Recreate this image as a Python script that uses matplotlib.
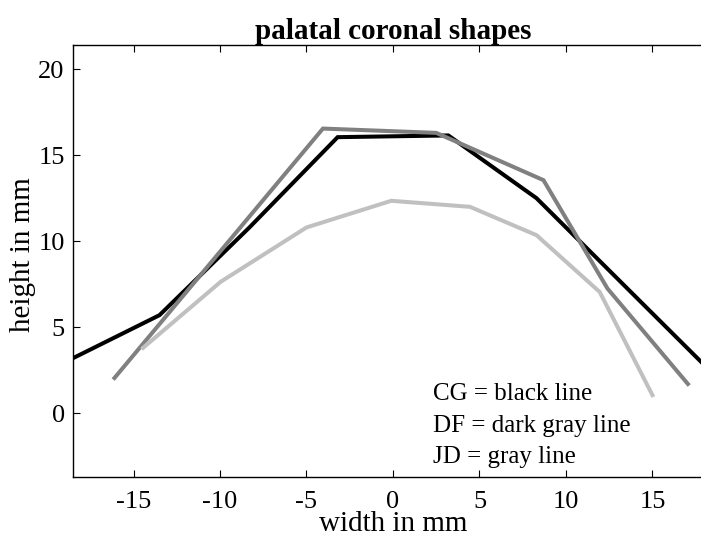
import matplotlib
matplotlib.use("Agg")
import matplotlib.pyplot as plt

# palatal coronal shapes (width vs height, mm)
cg_x = [-18.5, -13.5, -8.3, -3.2, 3.2, 8.3, 12.8, 18.5]
cg_y = [3.2, 5.7, 10.8, 16.05, 16.15, 12.5, 8.0, 2.3]

df_x = [-16.1, -4.05, 2.5, 8.7, 12.4, 17.05]
df_y = [2.05, 16.55, 16.3, 13.55, 7.25, 1.7]

jd_x = [-14.45, -9.95, -5.0, -0.1, 4.45, 8.3, 11.95, 15.0]
jd_y = [3.8, 7.65, 10.8, 12.35, 12.0, 10.35, 7.05, 1.05]

legend_lines = ["CG = black line", "DF = dark gray line", "JD = gray line"]
xticks = [-15, -10, -5, 0, 5, 10, 15]
yticks = [0, 5, 10, 15, 20]

plt.rcParams["font.family"] = ["Liberation Serif", "DejaVu Serif"]
plt.rcParams["axes.unicode_minus"] = False

fig = plt.figure(figsize=(7.01, 5.37), dpi=100)
# axes runs a bit past the right edge, as in the cropped original
ax = fig.add_axes([0.1041, 0.1123, 0.913, 0.803])

ax.plot(cg_x, cg_y, color="black", lw=2.9, solid_joinstyle="miter")
ax.plot(df_x, df_y, color="#808080", lw=2.9, solid_joinstyle="miter")
ax.plot(jd_x, jd_y, color="#c0c0c0", lw=2.9, solid_joinstyle="miter")

ax.set_xlim(-18.5, 18.5)
ax.set_ylim(-3.69, 21.38)
ax.set_xticks(xticks)
ax.set_yticks(yticks)
ax.tick_params(direction="in", length=5, width=0.8, labelsize=19,
               top=True, right=True)
ax.tick_params(axis="x", pad=10)
ax.tick_params(axis="y", pad=6)
for s in ax.spines.values():
    s.set_linewidth(1.0)

for i, t in enumerate(legend_lines):
    ax.text(2.3, 0.77 - i * 1.84, t, fontsize=18, va="baseline", ha="left")

ax.set_title("palatal coronal shapes", fontsize=21, fontweight="bold", pad=5)
ax.set_xlabel("width in mm", fontsize=21, labelpad=-1)
ax.set_ylabel("height in mm", fontsize=21, labelpad=0)
ax.yaxis.set_label_coords(-0.058, 0.514)

fig.savefig("out.png", dpi=100)
